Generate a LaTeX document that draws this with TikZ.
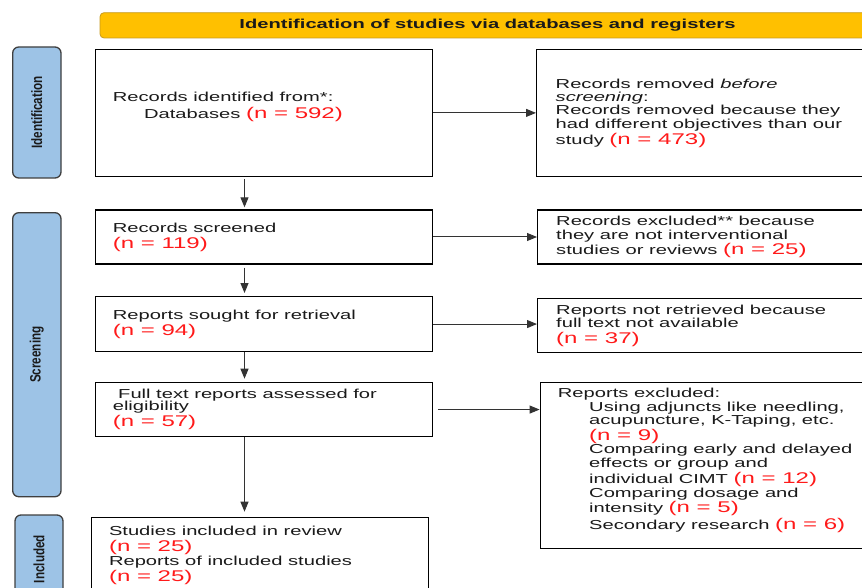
\documentclass[tikz,border=0pt]{standalone}
\usepackage{fontspec}
\setmainfont{Liberation Sans}[FakeStretch=1.55]
\newfontfamily\labfont{Liberation Sans}[FakeStretch=0.78]
\usetikzlibrary{arrows.meta}
\definecolor{hdrfill}{HTML}{FFC000}
\definecolor{hdrdraw}{HTML}{C79A1E}
\definecolor{labfill}{HTML}{9DC3E6}
\definecolor{labdraw}{HTML}{3F3F3F}
\definecolor{nred}{HTML}{FF1A1A}
\definecolor{txt}{HTML}{1A1A1A}
\newcommand\rn[1]{{\color{nred}\fontsize{15.5}{16}\selectfont #1}}
\newcommand\ind{\hspace*{31.3pt}}
\newcommand\fl{\rule{0pt}{10pt}}
\AtBeginDocument{\setlength{\lineskiplimit}{-100pt}}
\begin{document}
\begin{tikzpicture}[x=1pt,y=-1pt,
  box/.style={draw=black,line width=1.4pt,anchor=north west,inner sep=0pt},
  txtn/.style={anchor=north west,inner sep=0pt,align=left,text=txt,
    font=\fontsize{13}{13.4}\selectfont},
  lab/.style={draw=labdraw,fill=labfill,line width=1.3pt,rounded corners=6pt,
    rotate=90,inner sep=0pt,text=txt,font=\labfont\bfseries\fontsize{15}{15}\selectfont},
  hdr/.style={draw=hdrdraw,fill=hdrfill,line width=0.8pt,rounded corners=4pt,
    inner sep=0pt,text=txt,font=\bfseries\fontsize{13}{13}\selectfont},
  arr/.style={-{Triangle[length=10pt,width=8pt]},line width=1pt,draw=black!80}]
\useasboundingbox (0,0) rectangle (862,588);
\clip (0,0) rectangle (862,588);

% header
\node[hdr,minimum width=775pt,minimum height=25.3pt] (hdr) at (487.5,25.35)
  {Identification of studies via databases and registers};

% side labels
\node[lab,minimum width=131pt,minimum height=48.3pt] (L1) at (36.85,112.5) {Identification};
\node[lab,minimum width=284pt,minimum height=48.3pt] (L2) at (36.85,354.7) {Screening};
\node[lab,minimum width=88pt,minimum height=48pt] (L3) at (39,559) {Included};

% boxes
\node[box,minimum width=337.5pt,minimum height=127pt] (b1) at (94.5,48.7) {};
\node[box,minimum width=370pt,minimum height=127pt] (r1) at (536,48.7) {};
\node[box,minimum width=337.5pt,minimum height=54pt] (b2) at (94.5,209.3) {};
\node[box,minimum width=370pt,minimum height=54pt] (r2) at (537,209.3) {};
\node[box,minimum width=337.5pt,minimum height=54.7pt] (b3) at (94.5,296) {};
\node[box,minimum width=370pt,minimum height=54.3pt] (r3) at (537,297.7) {};
\node[box,minimum width=337.5pt,minimum height=54.3pt] (b4) at (94.5,381.7) {};
\node[box,minimum width=370pt,minimum height=166pt] (r4) at (539.6,382) {};
\node[box,minimum width=336.8pt,minimum height=77pt] (b5) at (90.7,516.7) {};

% texts (anchored at top of first line = first baseline - 10)
\node[txtn] (b1t) at (112.6,91.7) {\fl Records identified from*:\\[2.9pt]\ind Databases \rn{(n = 592)}};
\node[txtn] (r1t) at (555.5,78) {\fl Records removed \textit{before}\\\textit{screening}:\\
  Records removed because they\\had different objectives than our\\[2.6pt]
  study \rn{(n = 473)}};
\node[txtn] (b2t) at (112.6,222) {\fl Records screened\\[2.6pt]\rn{(n = 119)}};
\node[txtn] (r2t) at (556,215.7) {\fl Records excluded** because\\they are not interventional\\[1.6pt]
  studies or reviews \rn{(n = 25)}};
\node[txtn] (b3t) at (112.6,309) {\fl Reports sought for retrieval\\[2.6pt]\rn{(n = 94)}};
\node[txtn] (r3t) at (556,304) {\fl Reports not retrieved because\\full text not available\\[2.6pt]
  \rn{(n = 37)}};
\node[txtn] (b4t) at (112.6,388) {\fl\hspace*{5.4pt}Full text reports assessed for\\[-1.4pt]eligibility\\[3.3pt]
  \rn{(n = 57)}};
\node[txtn] (r4t) at (557.7,387.3) {\fl Reports excluded:\\[1pt]
  \ind Using adjuncts like needling,\\[-0.8pt]
  \ind acupuncture, K-Taping, etc.\\[2.3pt]
  \ind\rn{(n = 9)}\\
  \ind Comparing early and delayed\\
  \ind effects or group and\\[2.6pt]
  \ind individual CIMT \rn{(n = 12)}\\[0.6pt]
  \ind Comparing dosage and\\[1.6pt]
  \ind intensity \rn{(n = 5)}\\[4.2pt]
  \ind Secondary research \rn{(n = 6)}};
\node[txtn] (b5t) at (108.8,525.7) {\fl Studies included in review\\[2.6pt]\rn{(n = 25)}\\
  Reports of included studies\\[2.3pt]\rn{(n = 25)}};

% connectors
\coordinate (ax) at (244.5,0);
\draw[arr,shorten <=2pt,shorten >=2pt] (b1.south -| ax) -- (b2.north -| ax);
\draw[arr,shorten <=3pt,shorten >=3pt] (b2.south -| ax) -- (b3.north -| ax);
\draw[arr,shorten >=3pt] (b3.south -| ax) -- (b4.north -| ax);
\draw[arr,shorten >=5pt] (b4.south -| ax) -- (b5.north -| ax);
\draw[arr] (b1.east) -- (r1.west);
\draw[arr] (b2.east) -- (b2.east -| r2.west);
\draw[arr] (b3.east) -- (b3.east -| r3.west);
\draw[arr,shorten <=5pt] (b4.east) -- (b4.east -| r4.west);
\end{tikzpicture}
\end{document}
